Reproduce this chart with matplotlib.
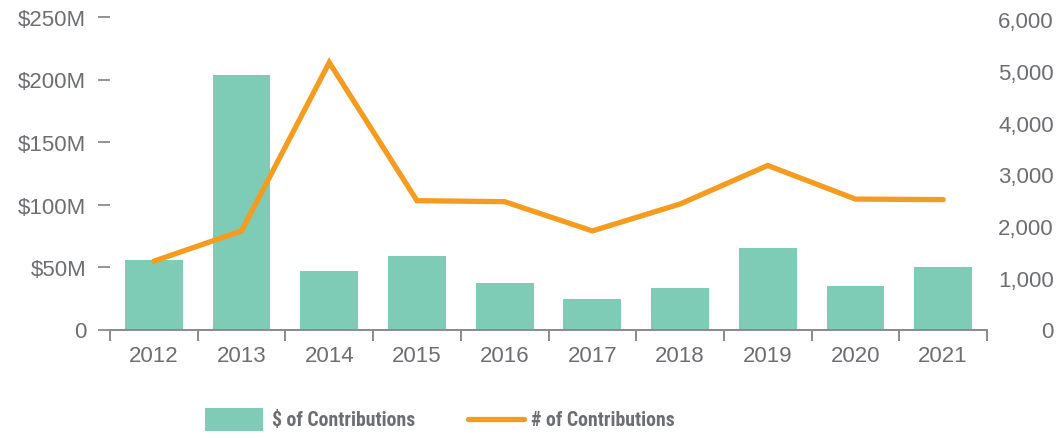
import matplotlib
matplotlib.use("Agg")
import matplotlib.pyplot as plt
import numpy as np
from matplotlib.patches import Rectangle
from matplotlib.lines import Line2D
from matplotlib.ticker import FixedLocator
from matplotlib import font_manager

years = ["2012", "2013", "2014", "2015", "2016", "2017", "2018", "2019", "2020", "2021"]
dollars_m = [56, 204, 47, 59, 37, 24.5, 33, 65, 35, 50]
counts = [1320, 1905, 5160, 2490, 2470, 1905, 2425, 3170, 2520, 2510]
left_ticks = [0, 50, 100, 150, 200, 250]
left_labels = ["0", "$50M", "$100M", "$150M", "$200M", "$250M"]
right_ticks = [0, 1000, 2000, 3000, 4000, 5000, 6000]
right_labels = ["0", "1,000", "2,000", "3,000", "4,000", "5,000", "6,000"]
legend_labels = ["$ of Contributions", "# of Contributions"]

BAR = "#7ECCB5"
ORANGE = "#F59C20"
GRAY = "#6D6E71"
AXC = "#8A8A8C"

plt.rcParams['font.family'] = ['Liberation Sans', 'DejaVu Sans']

installed = {f.name for f in font_manager.fontManager.ttflist}
cond = None
for cand in ['Roboto Condensed', 'Liberation Sans Narrow', 'Open Sans Condensed', 'Noto Sans Condensed']:
    if cand in installed:
        cond = cand
        break
if cond is not None:
    leg_family = [cond, 'DejaVu Sans']
    leg_size = 14.2
else:
    leg_family = ['Liberation Sans', 'DejaVu Sans']
    leg_size = 12.5

fig = plt.figure(figsize=(10.63, 4.39), dpi=100)
ax = fig.add_axes([110/1063, 108.5/439, 877/1063, 312.5/439])
ax2 = ax.twinx()

x = np.arange(len(years))
ax.bar(x, dollars_m, width=0.66, color=BAR, zorder=2)
ax2.plot(x, counts, color=ORANGE, lw=3.8, solid_capstyle='round', solid_joinstyle='miter', zorder=3)

ax.set_xlim(-0.5, len(years) - 0.5)
ax.set_ylim(0, 250)
ax2.set_ylim(0, 6039)

for a in (ax, ax2):
    for s in a.spines.values():
        s.set_visible(False)
ax.spines['bottom'].set_visible(True)
ax.spines['bottom'].set_color(AXC)
ax.spines['bottom'].set_linewidth(1.4)

ax.set_yticks(left_ticks)
ax.set_yticklabels(left_labels)
ax.tick_params(axis='y', length=8.6, width=1.3, color=AXC, pad=8.5, labelsize=16, labelcolor=GRAY)

ax.set_xticks(x)
ax.set_xticklabels(years)
ax.xaxis.set_minor_locator(FixedLocator(np.arange(-0.5, len(years), 1.0)))
ax.tick_params(axis='x', which='major', length=0, pad=11, labelsize=16, labelcolor=GRAY)
ax.tick_params(axis='x', which='minor', length=8, width=1.4, color=AXC, direction='out')

ax2.set_yticks(right_ticks)
ax2.set_yticklabels(right_labels)
ax2.tick_params(axis='y', length=0, pad=48, labelsize=16, labelcolor=GRAY)
for lbl in ax2.get_yticklabels():
    lbl.set_horizontalalignment('right')

# legend (figure-pixel placement)
W, H = 1063, 439
fig.patches.append(Rectangle((205/W, 1 - 432/H), 58/W, 23/H, transform=fig.transFigure,
                             facecolor=BAR, edgecolor='none'))
fig.text(272/W, 1 - 421/H, legend_labels[0], ha='left', va='center', color=GRAY,
         fontsize=leg_size, fontweight='bold', family=leg_family)
fig.lines.append(Line2D([468/W, 524/W], [1 - 420/H, 1 - 420/H], transform=fig.transFigure,
                        color=ORANGE, lw=3.8, solid_capstyle='round'))
fig.text(531/W, 1 - 421/H, legend_labels[1], ha='left', va='center', color=GRAY,
         fontsize=leg_size, fontweight='bold', family=leg_family)

fig.savefig("out.png", dpi=100)
